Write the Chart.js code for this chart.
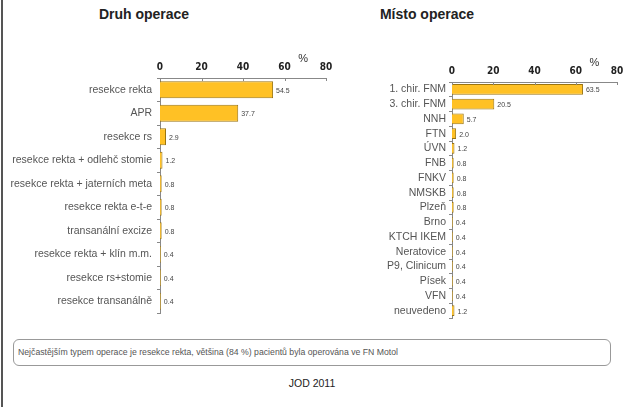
<!DOCTYPE html>
<html>
<head>
<meta charset="utf-8">
<script src="https://cdn.jsdelivr.net/npm/chart.js@4"></script>
<style>
  body { margin: 0; background: #fff; width: 625px; height: 407px; position: relative; overflow: hidden; font-family: "Liberation Sans", Arial, sans-serif; }
  .frame { position: absolute; left: 1px; top: 0; width: 2px; height: 407px; background: #555; }
  .title { position: absolute; top: 6px; font-weight: bold; font-size: 14px; color: #222; transform: translateX(-50%); white-space: nowrap; }
  .wrap { position: absolute; top: 50px; }
  .note { position: absolute; left: 13px; top: 339px; width: 592px; height: 25px; border: 1px solid #999; border-radius: 6px; font-size: 8.7px; color: #555; line-height: 25px; padding-left: 4px; }
  .foot { position: absolute; left: 312px; top: 377px; transform: translateX(-50%); font-size: 10.5px; color: #222; }
</style>
</head>
<body>
<div class="frame"></div>
<div class="title" style="left:144px">Druh operace</div>
<div class="title" style="left:427px">Místo operace</div>
<div class="wrap" style="left:0; width:346px; height:278px;"><canvas id="druh"></canvas></div>
<div class="wrap" style="left:330px; width:307px; height:283px;"><canvas id="misto"></canvas></div>
<div class="note">Nejčastějším typem operace je resekce rekta, většina (84 %) pacientů byla operována ve FN Motol</div>
<div class="foot">JOD 2011</div>
<script>
// data
const druhLabels = ["resekce rekta", "APR", "resekce rs", "resekce rekta + odlehč stomie",
  "resekce rekta + jaterních meta", "resekce rekta e-t-e", "transanální excize",
  "resekce rekta + klín m.m.", "resekce rs+stomie", "resekce transanálně"];
const druhValues = [54.5, 37.7, 2.9, 1.2, 0.8, 0.8, 0.8, 0.4, 0.4, 0.4];

const mistoLabels = ["1. chir. FNM", "3. chir. FNM", "NNH", "FTN", "ÚVN", "FNB", "FNKV", "NMSKB",
  "Plzeň", "Brno", "KTCH IKEM", "Neratovice", "P9, Clinicum", "Písek", "VFN", "neuvedeno"];
const mistoValues = [63.5, 20.5, 5.7, 2.0, 1.2, 0.8, 0.8, 0.8, 0.8, 0.4, 0.4, 0.4, 0.4, 0.4, 0.4, 1.2];

const xTicks = [0, 20, 40, 60, 80];

const tickFont = { family: "'Liberation Sans Narrow', 'DejaVu Sans Condensed', sans-serif", weight: "bold", size: 10 };

// value labels, % sign and small inward ticks on top axis
const extras = {
  id: "extras",
  afterDatasetsDraw(chart) {
    const { ctx, chartArea } = chart;
    const xs = chart.scales.x;
    ctx.save();
    ctx.font = "7px 'Liberation Sans', Arial, sans-serif";
    ctx.fillStyle = "#444";
    ctx.textBaseline = "middle";
    chart.getDatasetMeta(0).data.forEach((bar, i) => {
      const v = chart.data.datasets[0].data[i];
      ctx.fillText(v.toFixed(1), bar.x + 3, bar.y + 1);
    });
    ctx.strokeStyle = "#888";
    ctx.lineWidth = 1;
    xTicks.forEach(t => {
      const px = Math.round(xs.getPixelForValue(t)) + 0.5;
      ctx.beginPath();
      ctx.moveTo(px, chartArea.top);
      ctx.lineTo(px, chartArea.top + 3);
      ctx.stroke();
    });
    ctx.font = "11px 'Liberation Sans', Arial, sans-serif";
    ctx.fillStyle = "#333";
    ctx.textAlign = "center";
    ctx.fillText("%", xs.getPixelForValue(69), chartArea.top - 19);
    ctx.restore();
  }
};

function makeChart(id, labels, values, yWidth, xHeight, labelSize, labelPad) {
  new Chart(document.getElementById(id), {
    type: "bar",
    data: {
      labels: labels,
      datasets: [{
        data: values,
        backgroundColor: "#FFC125",
        borderColor: "#9a7410",
        borderWidth: 1,
        barPercentage: 0.72,
        categoryPercentage: 1
      }]
    },
    plugins: [extras],
    options: {
      indexAxis: "y",
      responsive: true,
      maintainAspectRatio: false,
      animation: false,
      layout: { padding: { left: 0, right: 20, top: 0, bottom: 15 } },
      plugins: { legend: { display: false }, tooltip: { enabled: false } },
      scales: {
        x: {
          position: "top",
          min: 0, max: 80,
          afterBuildTicks(scale) { scale.ticks = xTicks.map(v => ({ value: v })); },
          afterFit(scale) { scale.height = xHeight; },
          grid: { display: false, drawTicks: false },
          border: { color: "#888" },
          ticks: { font: tickFont, color: "#222", padding: 5, maxRotation: 0 }
        },
        y: {
          afterFit(scale) { scale.width = yWidth; },
          grid: { offset: true, drawOnChartArea: false, tickLength: 3, color: "#888" },
          border: { color: "#888" },
          ticks: { font: { family: "'Liberation Sans', Arial, sans-serif", size: labelSize }, color: "#555", padding: labelPad, autoSkip: false }
        }
      }
    }
  });
}

makeChart("druh", druhLabels, druhValues, 160, 28, 10.5, 5);
makeChart("misto", mistoLabels, mistoValues, 122, 32, 10.5, 3);
</script>
</body>
</html>
